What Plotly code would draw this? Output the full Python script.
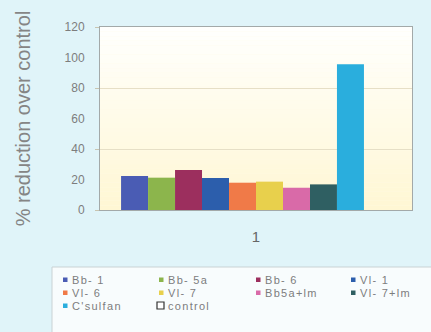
import plotly.graph_objects as go

# Percent reduction over control for each treatment
treatments = ["Bb-1", "Bb-5a", "Bb-6", "Vl-1", "Vl-6", "Vl-7", "Bb5a+lm", "Vl-7+lm", "C'sulfan", "control"]
legend_text = ["Bb- 1", "Bb- 5a", "Bb- 6", "Vl- 1", "Vl- 6", "Vl- 7", "Bb5a+lm", "Vl- 7+lm", "C'sulfan", "control"]
reduction = [22.3, 21.2, 26.2, 21.0, 17.9, 18.6, 14.6, 16.8, 95.5, 0]
colors = ["#4a5cb4", "#8cb54c", "#9c2f5e", "#2c5eac", "#f07a48", "#e8d04c",
          "#d96aa8", "#2f5f62", "#2aaedd", "#ffffff"]
group_label = ["1"]
y_ticks = [0, 20, 40, 60, 80, 100, 120]

W, H = 431, 332
ML, MR, MT, MB = 100, 19, 27, 122
PW, PH = W - ML - MR, H - MT - MB


def px_to_paper(px, py):
    return (px - ML) / PW, (H - MB - py) / PH


fig = go.Figure()
for name, val, col in zip(treatments, reduction, colors):
    fig.add_trace(go.Bar(
        name=name, x=group_label, y=[val], showlegend=False,
        marker=dict(color=col, line=dict(width=0)),
    ))

shapes = []
# soft white-to-cream wash behind the bars
n_bands = 40
top_rgb, bot_rgb = (255, 255, 253), (255, 247, 212)
for i in range(n_bands):
    t = i / (n_bands - 1)
    c = tuple(round(top_rgb[k] + (bot_rgb[k] - top_rgb[k]) * t) for k in range(3))
    shapes.append(dict(type="rect", xref="x domain", yref="y domain", layer="below",
                       x0=0, x1=1, y0=1 - (i + 1) / n_bands, y1=1 - i / n_bands,
                       fillcolor="rgb(%d,%d,%d)" % c, line=dict(width=0)))

# legend frame
lx0, ly0 = px_to_paper(52, 267)
lx1, ly1 = px_to_paper(440, 340)
shapes.append(dict(type="rect", xref="paper", yref="paper", x0=lx0, x1=lx1, y0=ly1, y1=ly0,
                   fillcolor="#f8fcfd", line=dict(color="#c9d2d4", width=1)))

annotations = []
grey = "#7d7d7d"
col_x = [63, 159, 256, 351]
row_y = [279.5, 292.5, 305.5]
for i, (label, col) in enumerate(zip(legend_text, colors)):
    cx, cy = col_x[i % 4], row_y[i // 4]
    if label == "control":
        shapes.append(dict(type="rect", xref="paper", yref="paper",
                           x0=px_to_paper(cx - 2, 0)[0], x1=px_to_paper(cx + 5, 0)[0],
                           y0=px_to_paper(0, cy + 3.5)[1], y1=px_to_paper(0, cy - 3.5)[1],
                           fillcolor="#ffffff", line=dict(color="#333333", width=1.2)))
    else:
        shapes.append(dict(type="rect", xref="paper", yref="paper",
                           x0=px_to_paper(cx, 0)[0], x1=px_to_paper(cx + 4.5, 0)[0],
                           y0=px_to_paper(0, cy + 2.5)[1], y1=px_to_paper(0, cy - 2)[1],
                           fillcolor=col, line=dict(width=0)))
    ax, ay = px_to_paper(cx + 7, cy)
    annotations.append(dict(
        xref="paper", yref="paper", x=ax, y=ay, xanchor="left", yanchor="middle",
        showarrow=False,
        text='<span style="letter-spacing:1.3px">%s</span>' % label,
        font=dict(size=11, color=grey, family="Liberation Sans, Arial, sans-serif"),
    ))

fig.update_layout(
    width=W, height=H,
    margin=dict(l=ML, r=MR, t=MT, b=MB),
    paper_bgcolor="#e0f4f9",
    plot_bgcolor="#fffbe6",
    barmode="group",
    bargap=0.135,
    bargroupgap=0,
    font=dict(family="Liberation Sans, Arial, sans-serif", color=grey),
    showlegend=False,
    shapes=shapes,
    annotations=annotations,
    xaxis=dict(
        showline=True, linecolor="#a3a9a9", mirror=True,
        tickfont=dict(size=15, color="#666666"), ticks="",
        ticklabelstandoff=13,
    ),
    yaxis=dict(
        range=[0, 120], tickvals=y_ticks,
        showline=True, linecolor="#a3a9a9", mirror=True,
        showgrid=False, zeroline=False,
        tickfont=dict(size=12, color=grey),
        ticks="", ticklabelstandoff=12,
        title=dict(text="% reduction over control", font=dict(size=20, color="#858585"), standoff=28),
        minor=dict(dtick=40, tick0=0, showgrid=True, gridcolor="#e6dfc6", gridwidth=1,
                   ticks="outside", ticklen=4, tickcolor="#c8c4b0"),
    ),
)

fig.write_html("out.html")
